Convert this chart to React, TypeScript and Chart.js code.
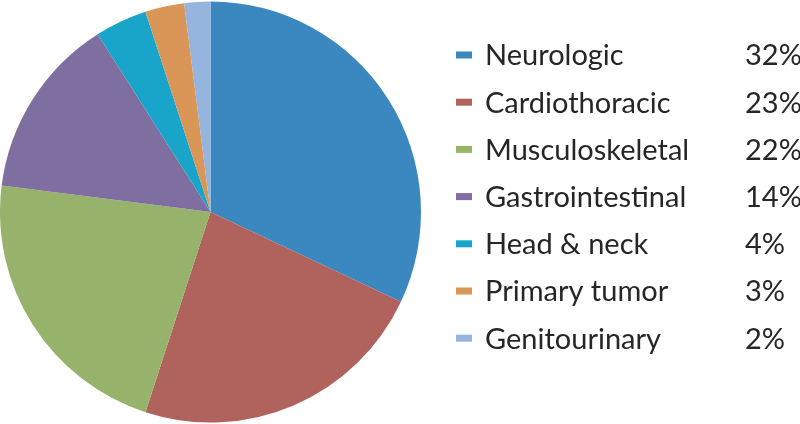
import React, { useEffect, useRef } from "react";
import { Chart, registerables } from "chart.js";

Chart.register(...registerables);

const categories = [
  "Neurologic",
  "Cardiothoracic",
  "Musculoskeletal",
  "Gastrointestinal",
  "Head & neck",
  "Primary tumor",
  "Genitourinary",
];
const values = [32, 23, 22, 14, 4, 3, 2];
const colors = ["#3B88C0", "#B0625C", "#97B26B", "#7F6FA1", "#18A5C9", "#DA9656", "#95B5DF"];

const legendPlugin = {
  id: "sideLegend",
  afterDraw(chart: any) {
    const ctx = chart.ctx;
    const labels = chart.data.labels as string[];
    const data = chart.data.datasets[0].data as number[];
    const bg = chart.data.datasets[0].backgroundColor as string[];
    ctx.save();
    ctx.font = "29px Lato";
    ctx.textBaseline = "middle";
    labels.forEach((lab, i) => {
      const y = 55 + i * 47.2;
      ctx.fillStyle = bg[i];
      ctx.fillRect(456, y - 3.5, 16, 7);
      ctx.fillStyle = "#262626";
      ctx.textAlign = "left";
      ctx.fillText(lab, 485, y + 1);
      ctx.fillText(data[i] + "%", 745, y + 1);
    });
    ctx.restore();
  },
};

export default function App() {
  const ref = useRef<HTMLCanvasElement>(null);
  useEffect(() => {
    document.body.style.margin = "0";
    const chart = new Chart(ref.current!, {
      type: "pie",
      data: {
        labels: categories,
        datasets: [
          {
            data: values,
            backgroundColor: colors,
            borderWidth: 0,
          },
        ],
      },
      options: {
        animation: false,
        responsive: false,
        layout: { padding: { left: 0, top: 0, bottom: 0, right: 379 } },
        plugins: { legend: { display: false }, tooltip: { enabled: false } },
      },
      plugins: [legendPlugin],
    });
    return () => chart.destroy();
  }, []);
  return (
    <div style={{ position: "fixed", left: 0, top: 0, width: 800, height: 424, background: "#fff" }}>
      <canvas ref={ref} width={800} height={424} />
    </div>
  );
}
